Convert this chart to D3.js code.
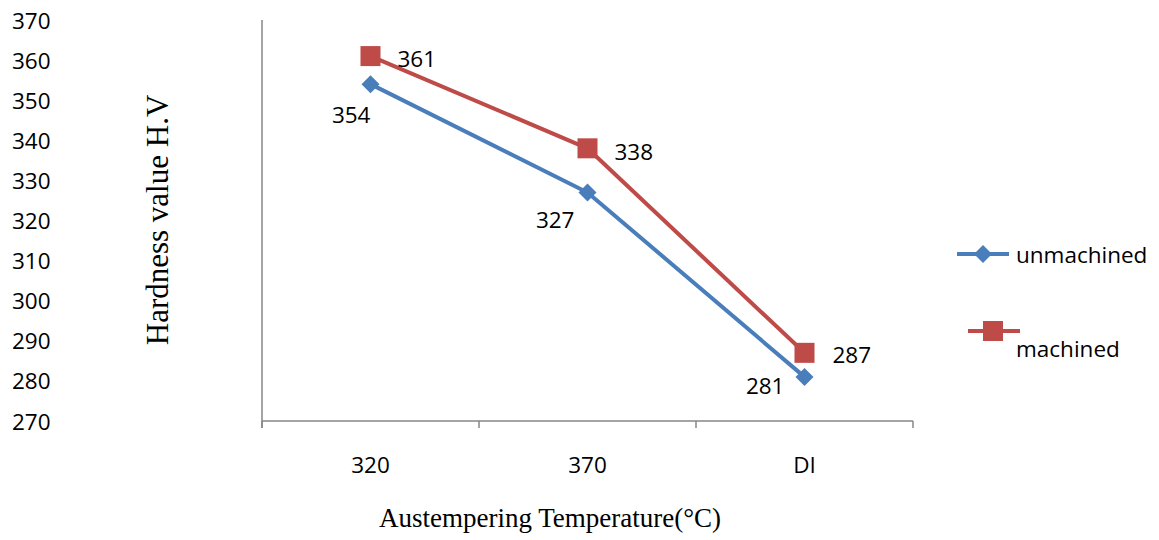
<!DOCTYPE html>
<html>
<head>
<meta charset="utf-8">
<script src="https://cdn.jsdelivr.net/npm/d3@7"></script>
<style>
  html, body { margin: 0; padding: 0; background: #fff; }
  svg { display: block; }
</style>
</head>
<body>
<svg id="chart" width="1159" height="540"></svg>
<script>
// Hardness vs austempering temperature
const categories = ["320", "370", "DI"];
const unmachined = [354, 327, 281];
const machined = [361, 338, 287];
const yTicks = [270, 280, 290, 300, 310, 320, 330, 340, 350, 360, 370];

// label placement (dx, dy, anchor) for each point's value label
const unmachinedLabelOffsets = [[0, 30, "end"], [-13, 27, "end"], [-20, 9, "end"]];
const machinedLabelOffsets = [[27, 2, "start"], [27, 3, "start"], [28, 2, "start"]];

const W = 1159, H = 540;
const plot = { left: 262, right: 913, top: 20, bottom: 421 };
const sans = "'Open Sans', 'Noto Sans', sans-serif";
const serif = "'Liberation Serif', 'DejaVu Serif', serif";
const fs = 22.5;
const axisColor = "#868686";
const blue = "#4A7EBB", red = "#BE4B48";

const svg = d3.select("#chart");

const x = d3.scaleBand().domain(categories).range([plot.left, plot.right]).padding(0);
const y = d3.scaleLinear().domain([270, 370]).range([plot.bottom, plot.top]);
const cx = d => x(d) + x.bandwidth() / 2;

// y-axis tick labels sit at the far left of the figure
svg.append("g").selectAll("text").data(yTicks).join("text")
  .attr("x", 12).attr("y", d => y(d))
  .attr("dominant-baseline", "central")
  .attr("font-family", sans).attr("font-size", fs).attr("fill", "#000")
  .text(d => d);

// axis lines
svg.append("line")
  .attr("x1", plot.left).attr("x2", plot.left)
  .attr("y1", plot.top).attr("y2", plot.bottom + 7)
  .attr("stroke", axisColor).attr("stroke-width", 1.5);
svg.append("line")
  .attr("x1", plot.left).attr("x2", plot.right)
  .attr("y1", plot.bottom).attr("y2", plot.bottom)
  .attr("stroke", axisColor).attr("stroke-width", 1.5);

// x-axis tick marks at band boundaries
const boundaries = categories.map(c => x(c)).concat([plot.right]);
svg.append("g").selectAll("line").data(boundaries).join("line")
  .attr("x1", d => d).attr("x2", d => d)
  .attr("y1", plot.bottom).attr("y2", plot.bottom + 7)
  .attr("stroke", axisColor).attr("stroke-width", 1.5);

// x category labels
svg.append("g").selectAll("text").data(categories).join("text")
  .attr("x", d => cx(d)).attr("y", 464)
  .attr("text-anchor", "middle").attr("dominant-baseline", "central")
  .attr("font-family", sans).attr("font-size", fs).attr("fill", "#000")
  .text(d => d);

// axis titles
svg.append("text")
  .attr("transform", "translate(157,220) rotate(-90)")
  .attr("text-anchor", "middle").attr("dominant-baseline", "central")
  .attr("font-family", serif).attr("font-size", 31).attr("fill", "#000")
  .text("Hardness value H.V");
svg.append("text")
  .attr("x", 550).attr("y", 518)
  .attr("text-anchor", "middle").attr("dominant-baseline", "central")
  .attr("font-family", serif).attr("font-size", 27).attr("fill", "#000")
  .text("Austempering Temperature(°C)");

const line = d3.line().x(d => cx(d.c)).y(d => y(d.v));
const toPts = vals => vals.map((v, i) => ({ c: categories[i], v }));

const diamond = s => `M0,${-s}L${s},0L0,${s}L${-s},0Z`;

function drawSeries(vals, color, marker, offsets) {
  const pts = toPts(vals);
  const g = svg.append("g");
  g.append("path").datum(pts).attr("d", line)
    .attr("fill", "none").attr("stroke", color).attr("stroke-width", 4)
    .attr("stroke-linejoin", "round");
  if (marker === "square") {
    g.selectAll("rect").data(pts).join("rect")
      .attr("x", d => cx(d.c) - 10).attr("y", d => y(d.v) - 10)
      .attr("width", 20).attr("height", 20).attr("fill", color);
  } else {
    g.selectAll("path.m").data(pts).join("path").attr("class", "m")
      .attr("transform", d => `translate(${cx(d.c)},${y(d.v)})`)
      .attr("d", diamond(9)).attr("fill", color);
  }
  g.selectAll("text").data(pts).join("text")
    .attr("x", (d, i) => cx(d.c) + offsets[i][0])
    .attr("y", (d, i) => y(d.v) + offsets[i][1])
    .attr("text-anchor", (d, i) => offsets[i][2])
    .attr("dominant-baseline", "central")
    .attr("font-family", sans).attr("font-size", fs).attr("fill", "#000")
    .text(d => d.v);
}

drawSeries(unmachined, blue, "diamond", unmachinedLabelOffsets);
drawSeries(machined, red, "square", machinedLabelOffsets);

// legend
const lg = svg.append("g");
lg.append("line").attr("x1", 957).attr("x2", 1009).attr("y1", 254).attr("y2", 254)
  .attr("stroke", blue).attr("stroke-width", 4);
lg.append("path").attr("transform", "translate(983,254)").attr("d", diamond(9)).attr("fill", blue);
lg.append("text").attr("x", 1016).attr("y", 254).attr("dominant-baseline", "central")
  .attr("font-family", sans).attr("font-size", fs).text("unmachined");
lg.append("line").attr("x1", 968).attr("x2", 1020).attr("y1", 331).attr("y2", 331)
  .attr("stroke", red).attr("stroke-width", 4);
lg.append("rect").attr("x", 983).attr("y", 321).attr("width", 20).attr("height", 20).attr("fill", red);
lg.append("text").attr("x", 1016).attr("y", 348).attr("dominant-baseline", "central")
  .attr("font-family", sans).attr("font-size", fs).text("machined");
</script>
</body>
</html>
